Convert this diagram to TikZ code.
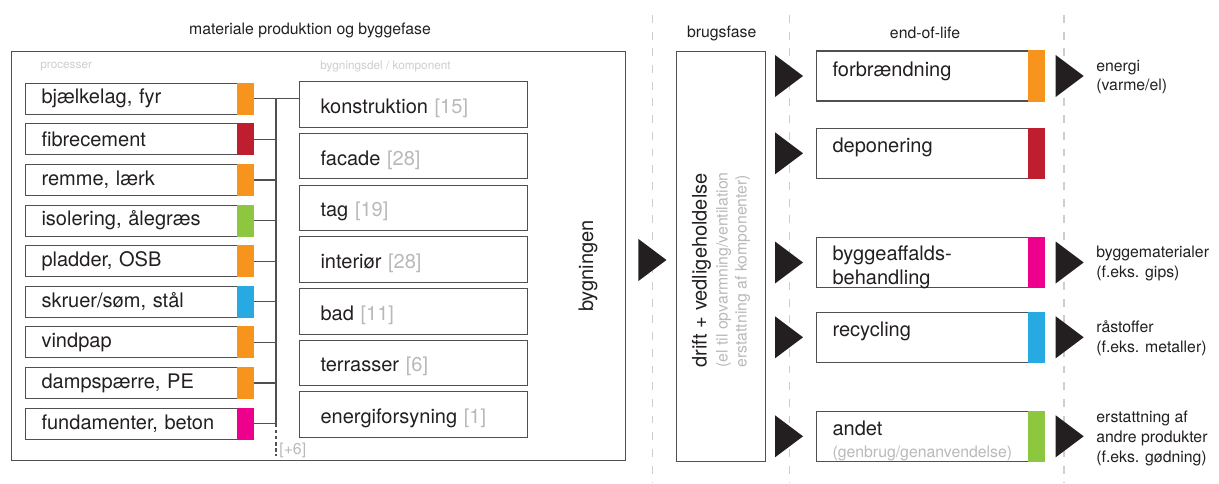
\documentclass[tikz,border=0pt]{standalone}
\usepackage{fontspec}
\setmainfont{TeX Gyre Heros}
\usepackage{xcolor}
\definecolor{lcaorange}{RGB}{247,148,29}
\definecolor{lcared}{RGB}{190,30,45}
\definecolor{lcagreen}{RGB}{141,198,63}
\definecolor{lcablue}{RGB}{39,170,225}
\definecolor{lcamagenta}{RGB}{236,0,140}
\definecolor{lcadark}{RGB}{35,31,32}
\definecolor{lcaline}{RGB}{80,80,80}
\definecolor{lcagray}{RGB}{185,185,185}
\definecolor{lcalight}{RGB}{205,205,205}
\usetikzlibrary{positioning,calc}

% black flow triangle, tip at the given point
\newcommand{\flowtip}[1]{\fill[lcadark] #1 -- ++(-28,-21) -- ++(0,42) -- cycle;}
% coloured tag at the right end of a box
\newcommand{\colourtag}[2]{\fill[#2] ([xshift=-0.34cm]#1.north east) rectangle (#1.south east);}
\newcommand{\partcount}[1]{{\color{lcagray}[#1]}}

\begin{document}
\begin{tikzpicture}[x=0.02cm,y=-0.02cm,
  every node/.style={text=lcadark},
  mainfont/.style={font=\fontsize{11.4}{13.6}\selectfont},
  headfont/.style={font=\fontsize{9}{11.2}\selectfont},
  tinygray/.style={font=\fontsize{6.7}{8}\selectfont,text=lcalight,anchor=west,inner sep=0pt},
  procbox/.style={draw=lcaline,line width=0.6pt,anchor=west,minimum width=4.56cm,
    minimum height=0.62cm,text width=3.92cm,inner xsep=0.32cm,inner ysep=0pt,align=left,mainfont},
  compbox/.style={draw=lcaline,line width=0.6pt,anchor=west,minimum width=4.56cm,
    minimum height=0.91cm,text width=3.72cm,inner xsep=0.42cm,inner ysep=0pt,align=left,mainfont,
    text height=10.2pt,text depth=0pt},
  endbox/.style={draw=lcaline,line width=0.6pt,anchor=west,minimum width=4.566cm,minimum height=1.0cm},
  endtext/.style={anchor=north west,inner sep=0pt,align=left,mainfont},
  outtext/.style={anchor=west,inner sep=0pt,align=left,headfont},
  link/.style={draw=lcaline,line width=0.6pt},
  phase/.style={draw=lcalight,line width=0.8pt,dash pattern=on 4.5pt off 5pt}]
  \useasboundingbox (0,0) rectangle (1219,483);

  % phase borders
  \draw[phase] (652.7,15) -- (652.7,483);
  \draw[phase] (789.3,15) -- (789.3,483);
  \draw[phase] (1064,15) -- (1064,483);

  % headings
  \node[headfont] (tmat) at (310,30) {materiale produktion og byggefase};
  \node[headfont] (tbrug) at (721.7,33) {brugsfase};
  \node[headfont] (tend) at (925,33) {end-of-life};

  % material production and construction
  \node[draw=lcaline,line width=0.6pt,minimum width=12.3cm,minimum height=8.2cm] (mat) at (318.5,256) {};
  \node[tinygray] (tproc) at (40,66.7) {processer};
  \node[tinygray] (tcomp) at (320,66.7) {bygningsdel / komponent};

  \node[procbox] (p1) at (25,98.8) {bjælkelag, fyr};
  \node[procbox] (p2) at (25,139.4) {fibrecement};
  \node[procbox] (p3) at (25,180.0) {remme, lærk};
  \node[procbox] (p4) at (25,220.6) {isolering, ålegræs};
  \node[procbox] (p5) at (25,261.2) {pladder, OSB};
  \node[procbox] (p6) at (25,301.8) {skruer/søm, stål};
  \node[procbox] (p7) at (25,342.4) {vindpap};
  \node[procbox] (p8) at (25,383.0) {dampspærre, PE};
  \node[procbox] (p9) at (25,423.6) {fundamenter, beton};
  \colourtag{p1}{lcaorange}
  \colourtag{p2}{lcared}
  \colourtag{p3}{lcaorange}
  \colourtag{p4}{lcagreen}
  \colourtag{p5}{lcaorange}
  \colourtag{p6}{lcablue}
  \colourtag{p7}{lcaorange}
  \colourtag{p8}{lcaorange}
  \colourtag{p9}{lcamagenta}

  \node[compbox] (c1) at (299,104.5) {konstruktion \partcount{15}};
  \node[compbox] (c2) at (299,156.2) {facade \partcount{28}};
  \node[compbox] (c3) at (299,207.9) {tag \partcount{19}};
  \node[compbox] (c4) at (299,259.6) {interiør \partcount{28}};
  \node[compbox] (c5) at (299,311.3) {bad \partcount{11}};
  \node[compbox] (c6) at (299,363.0) {terrasser \partcount{6}};
  \node[compbox] (c7) at (299,414.7) {energiforsyning \partcount{1}};

  % links processes -> components
  \coordinate (bus) at (276,98.8);
  \coordinate (busend) at (276,456);
  \draw[link] (p1.east) -- (p1.east -| c1.west);
  \foreach \k in {2,...,9} \draw[link] (p\k.east) -- (p\k.east -| bus);
  \draw[link] (bus) -- (bus |- p9.east);
  \draw[link,dash pattern=on 2pt off 1.5pt] (bus |- p9.east) -- (busend);
  \node[headfont,text=lcagray,anchor=west,inner sep=0pt] (more) at (279,450) {[+6]};

  \node[mainfont,rotate=90] (byg) at (588,266) {bygningen};

  % use phase
  \node[draw=lcaline,line width=0.6pt,minimum width=1.772cm,minimum height=8.21cm] (brug) at (721,256.5) {};
  \flowtip{([xshift=-0.194cm,yshift=-0.07cm]brug.west)}
  \node[rotate=90,anchor=west,align=left,inner sep=0pt,font=\fontsize{9}{10.8}\selectfont] (drift) at (721,368)
    {{\fontsize{11.4}{13.6}\selectfont drift + vedligeholdelse}\\[1.1pt]
     {\color{lcagray}(el til opvarmning/ventilation}\\
     {\color{lcagray}erstattning af komponenter)}};

  % end of life
  \node[endbox] (e1) at (815.7,76) {};
  \node[endbox] (e2) at (815.7,153.3) {};
  \node[endbox] (e3) at (815.7,262.5) {};
  \node[endbox] (e4) at (815.7,337.3) {};
  \node[endbox] (e5) at (815.7,436.3) {};
  \colourtag{e1}{lcaorange}
  \colourtag{e2}{lcared}
  \colourtag{e3}{lcamagenta}
  \colourtag{e4}{lcablue}
  \colourtag{e5}{lcagreen}
  \node[endtext] (l1) at ([xshift=0.33cm,yshift=-0.22cm]e1.north west) {forbrændning};
  \node[endtext] (l2) at ([xshift=0.33cm,yshift=-0.2cm]e2.north west) {deponering};
  \node[endtext] (l3) at ([xshift=0.33cm,yshift=-0.17cm]e3.north west) {byggeaffalds-\\behandling};
  \node[endtext] (l4) at ([xshift=0.33cm,yshift=-0.19cm]e4.north west) {recycling};
  \node[endtext] (l5) at ([xshift=0.33cm,yshift=-0.2cm]e5.north west)
    {andet\\[-1pt]{\fontsize{9}{10}\selectfont\color{lcagray}(genbrug/genanvendelse)}};
  \foreach \k in {1,...,5} {\flowtip{([xshift=-0.254cm]e\k.west)}}
  \foreach \k in {1,3,4,5} {\flowtip{([xshift=0.774cm]e\k.east)}}

  % outputs
  \node[outtext] (r1) at ([xshift=1.02cm,yshift=-0.02cm]e1.east) {energi\\(varme/el)};
  \node[outtext] (r3) at ([xshift=1.02cm,yshift=-0.02cm]e3.east) {byggematerialer\\(f.eks. gips)};
  \node[outtext] (r4) at ([xshift=1.02cm,yshift=-0.02cm]e4.east) {råstoffer\\(f.eks. metaller)};
  \node[outtext] (r5) at ([xshift=1.02cm,yshift=-0.04cm]e5.east) {erstattning af\\andre produkter\\(f.eks. gødning)};
\end{tikzpicture}
\end{document}
